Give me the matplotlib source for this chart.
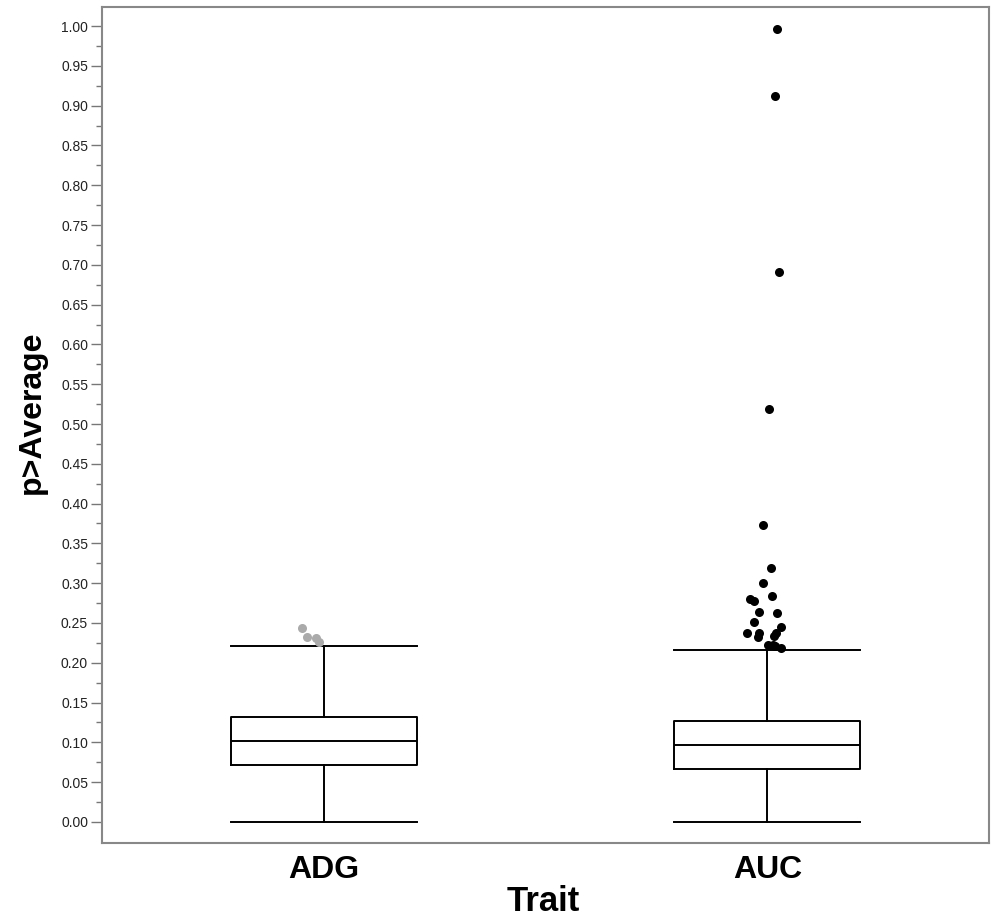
import numpy as np
import matplotlib.pyplot as plt

# box statistics
traits = ['ADG', 'AUC']
q1 = [0.0716, 0.0666]
median = [0.1018, 0.0967]
q3 = [0.1315, 0.1270]
whislo = [0.0, 0.0]
whishi = [0.2215, 0.2160]

# outliers (value, small horizontal offset as drawn)
adg_out = [0.2431, 0.2320, 0.2313, 0.2266]
adg_off = [-0.050, -0.037, -0.017, -0.010]
auc_out = [0.9958, 0.9120, 0.6910, 0.5190, 0.3735, 0.3190, 0.3006, 0.2805,
           0.2776, 0.2835, 0.2638, 0.2626, 0.2513, 0.2446, 0.2374, 0.2374,
           0.2328, 0.2378, 0.2337, 0.2224, 0.2224, 0.2211, 0.2186]
auc_off = [0.023, 0.018, 0.027, 0.005, -0.010, 0.008, -0.009, -0.040,
           -0.029, 0.011, -0.019, 0.023, -0.031, 0.030, -0.045, -0.018,
           -0.020, 0.019, 0.016, 0.001, 0.012, 0.017, 0.032]

plt.rcParams['font.family'] = ['Liberation Sans', 'DejaVu Sans']

fig = plt.figure(figsize=(9.93, 9.22), dpi=100)
ax = fig.add_axes([0.1027, 0.0857, 0.8933, 0.9067])

stats = []
for i, t in enumerate(traits):
    stats.append({'label': t, 'q1': q1[i], 'med': median[i], 'q3': q3[i],
                  'whislo': whislo[i], 'whishi': whishi[i], 'fliers': []})

lw = 1.4
ax.bxp(stats, positions=[0, 1], widths=0.42, showfliers=False,
       boxprops=dict(color='black', linewidth=lw),
       medianprops=dict(color='black', linewidth=lw),
       whiskerprops=dict(color='black', linewidth=lw),
       capprops=dict(color='black', linewidth=lw), capwidths=0.42)

ax.plot(0 + np.array(adg_off), adg_out, 'o', color='#aaaaaa', ms=6.5, mec='none')
ax.plot(1 + np.array(auc_off), auc_out, 'o', color='black', ms=6.5, mec='none')

ax.set_xlim(-0.5, 1.5)
ax.set_ylim(-0.0264, 1.0239)
ax.set_yticks(np.arange(0, 1.0001, 0.05))
ax.set_yticks(np.arange(0.025, 1.0, 0.05), minor=True)
ax.set_yticklabels([f'{v:.2f}' for v in np.arange(0, 1.0001, 0.05)])
ax.tick_params(axis='y', which='major', length=8, width=1, color='#777777',
               labelsize=10, labelcolor='#222222', pad=2)
ax.tick_params(axis='y', which='minor', length=4, width=1, color='#777777')
ax.tick_params(axis='x', length=0, labelsize=23, pad=9)
for lab in ax.get_xticklabels():
    lab.set_fontweight('bold')

for s in ax.spines.values():
    s.set_color('#888888')
    s.set_linewidth(1.5)

fig.text(0.032, 0.553, 'p>Average', rotation=90, ha='center', va='center',
         fontsize=23, fontweight='bold')
fig.text(0.547, 0.004, 'Trait', ha='center', va='bottom',
         fontsize=25, fontweight='bold')

fig.savefig('out.png', dpi=100, facecolor='white')
